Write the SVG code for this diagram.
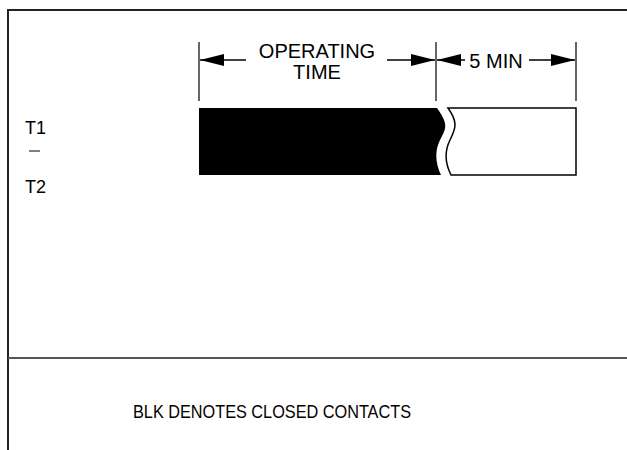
<svg xmlns="http://www.w3.org/2000/svg" width="627" height="450" viewBox="0 0 627 450">
<style>
.t{font-family:"Liberation Sans",Arial,sans-serif;fill:#000}
.lbl{font-size:20px}
.side{font-size:18px}
.note{font-size:18px}
.ext{stroke:#000;stroke-width:1.2;fill:none}
.dim{stroke:#000;stroke-width:1.5;fill:none}
.frame{stroke:#222;stroke-width:2;fill:none}
</style>
<defs>
<marker id="ah" viewBox="0 0 24 12" refX="24" refY="6" markerWidth="24" markerHeight="12" markerUnits="userSpaceOnUse" orient="auto-start-reverse">
<path d="M0,0 L24,6 L0,12 Z" fill="#000"/>
</marker>
</defs>
<g id="frame">
<path class="frame" d="M8,450 V10 H627"/>
<line x1="8" y1="358" x2="627" y2="358" stroke="#555" stroke-width="2"/>
</g>
<g id="labels">
<text class="t side" x="25" y="134">T1</text>
<line x1="29" y1="151" x2="40" y2="151" stroke="#000" stroke-width="1"/>
<text class="t side" x="25" y="193">T2</text>
<text class="t note" x="133" y="418" textLength="278" lengthAdjust="spacingAndGlyphs">BLK DENOTES CLOSED CONTACTS</text>
</g>
<g id="bars">
<path d="M199,108 H437 C449,125 446,128 440,140 C434,152 436,165 441,175 H199 Z" fill="#000"/>
<path d="M448,108 H576 V175 H451 C446,165 444,152 450,140 C456,128 458,122 448,108 Z" fill="#fff" stroke="#000" stroke-width="1.5"/>
</g>
<g id="connectors">
<line class="ext" x1="199" y1="42" x2="199" y2="101"/>
<line class="ext" x1="436" y1="42" x2="436" y2="101"/>
<line class="ext" x1="576" y1="42" x2="576" y2="101"/>
<line class="dim" x1="246" y1="60" x2="200" y2="60" marker-end="url(#ah)"/>
<line class="dim" x1="387" y1="60" x2="435" y2="60" marker-end="url(#ah)"/>
<line class="dim" x1="465" y1="60" x2="437" y2="60" marker-end="url(#ah)"/>
<line class="dim" x1="529" y1="60" x2="575" y2="60" marker-end="url(#ah)"/>
</g>
<g id="dim-labels">
<text class="t lbl" x="317" y="58" text-anchor="middle">OPERATING</text>
<text class="t lbl" x="317" y="79" text-anchor="middle">TIME</text>
<text class="t lbl" x="496" y="68" text-anchor="middle">5 MIN</text>
</g>
</svg>
